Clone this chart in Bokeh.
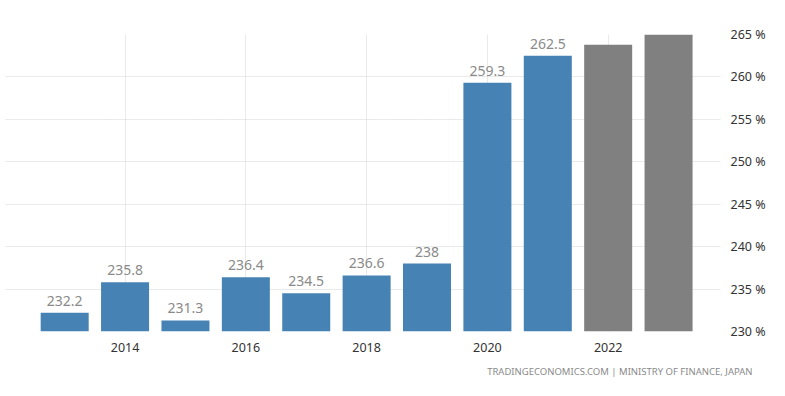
from bokeh.plotting import figure
from bokeh.models import ColumnDataSource, Range1d, FixedTicker, PrintfTickFormatter, LabelSet, Title
from bokeh.core.properties import value
from bokeh.embed import file_html
from bokeh.resources import INLINE

years = [2013, 2014, 2015, 2016, 2017, 2018, 2019, 2020, 2021]
values = [232.2, 235.8, 231.3, 236.4, 234.5, 236.6, 238.0, 259.3, 262.5]
labels = ["232.2", "235.8", "231.3", "236.4", "234.5", "236.6", "238", "259.3", "262.5"]
fc_years = [2022, 2023]
fc_values = [263.8, 265.0]
x_ticks = [2014, 2016, 2018, 2020, 2022]
y_ticks = [230, 235, 240, 245, 250, 255, 260, 265]

FONT = "Noto Sans"
BLUE = "#4682b4"
GREY = "#808080"

p = figure(width=785, height=396, output_backend="svg", toolbar_location=None,
           x_range=Range1d(2012.02, 2023.86), y_range=Range1d(230, 265),
           y_axis_location="right",
           min_border_left=5, min_border_top=34, min_border_bottom=65, min_border_right=65)
p.outline_line_color = None
p.background_fill_color = "white"
p.border_fill_color = "white"

src = ColumnDataSource(dict(x=years, top=values, lab=labels))
p.vbar(x="x", top="top", bottom=230, width=0.795, source=src, fill_color=BLUE, line_color=None)
fsrc = ColumnDataSource(dict(x=fc_years, top=fc_values))
p.vbar(x="x", top="top", bottom=230, width=0.795, source=fsrc, fill_color=GREY, line_color=None)

p.add_layout(LabelSet(x="x", y="top", text="lab", source=src, text_align="center",
                      text_baseline="bottom", y_offset=7, text_color="#8a8a8a",
                      text_font=value(FONT), text_font_size="14px"))

p.xaxis.ticker = FixedTicker(ticks=x_ticks)
p.yaxis.ticker = FixedTicker(ticks=y_ticks)
p.yaxis.formatter = PrintfTickFormatter(format="%d %%")
for ax in (p.xaxis[0], p.yaxis[0]):
    ax.axis_line_color = None
    ax.major_tick_line_color = None
    ax.minor_tick_line_color = None
    ax.major_label_text_font = FONT
    ax.major_label_text_font_size = "12.5px"
    ax.major_label_text_color = "#333333"
p.xaxis.major_label_standoff = 5
p.yaxis.major_label_standoff = 4

p.xgrid.ticker = FixedTicker(ticks=x_ticks)
p.ygrid.ticker = FixedTicker(ticks=y_ticks)
for g in (p.xgrid[0], p.ygrid[0]):
    g.grid_line_color = "#d4d4d4"
    g.grid_line_dash = "1 1"
    g.grid_line_width = 1

p.add_layout(Title(text="TRADINGECONOMICS.COM  |  MINISTRY OF FINANCE, JAPAN",
                   align="right", vertical_align="top", text_color="#8a8a8a", text_font=FONT,
                   text_font_size="9.5px", text_font_style="normal",
                   standoff=20, offset=-37), "below")

open("out.html", "w").write(file_html(p, INLINE))
